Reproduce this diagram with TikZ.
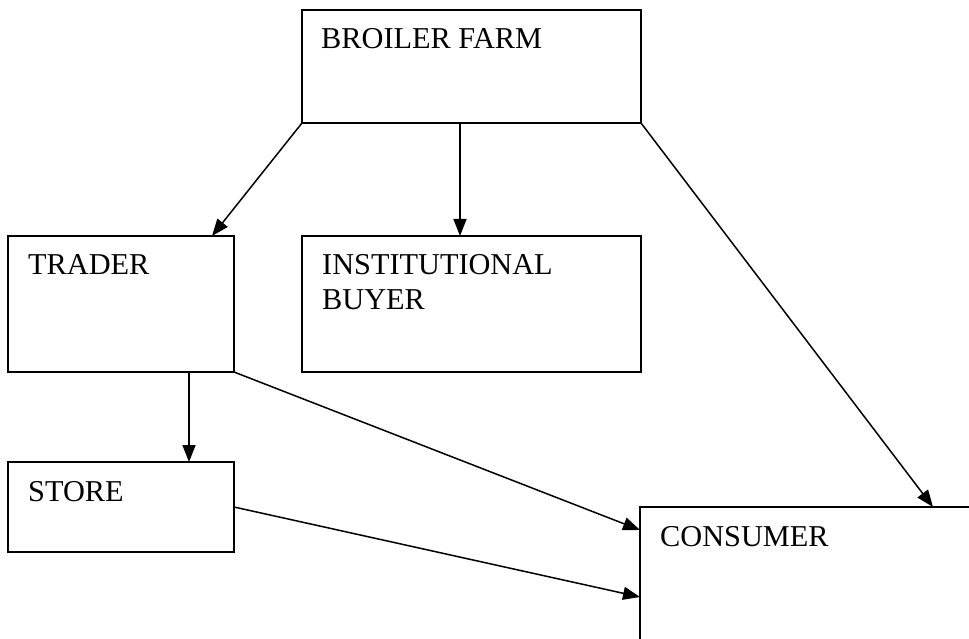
\documentclass[tikz,border=0pt]{standalone}
\usepackage{fontspec}
\setmainfont{Liberation Serif}
\usetikzlibrary{arrows.meta}
\begin{document}
\begin{tikzpicture}[x=1pt,y=-1pt,
  box/.style={draw,line width=1.5pt,rectangle,inner sep=0pt,outer sep=0pt},
  lbl/.style={anchor=base west,inner sep=0pt,font=\fontsize{30.3}{35}\selectfont},
  arr/.style={line width=1.5pt,-{Triangle[length=17pt,width=13pt]}}]
\useasboundingbox (0,0) rectangle (969,639);
\clip (0,0) rectangle (969,639);
\node[box,minimum width=339pt,minimum height=113pt] (broiler) at (471.5,66.5) {};
\node[box,minimum width=226pt,minimum height=136pt] (trader) at (121,304) {};
\node[box,minimum width=339pt,minimum height=136pt] (inst) at (471.5,304) {};
\node[box,minimum width=226pt,minimum height=90pt] (store) at (121,507) {};
\node[box,minimum width=360pt,minimum height=193pt] (consumer) at (820,603.5) {};
\node[lbl] (t1) at (321,49) {BROILER FARM};
\node[lbl] (t2) at (28,274) {TRADER};
\node[lbl] (t3) at (322,274) {INSTITUTIONAL};
\node[lbl] (t4) at (322,309) {BUYER};
\node[lbl] (t5) at (28,501) {STORE};
\node[lbl] (t6) at (660,546) {CONSUMER};
\draw[arr] (broiler.south west) -- ([xshift=204pt]trader.north west);
\draw[arr] ([xshift=-11.5pt]broiler.south) -- ([xshift=-11.5pt]inst.north);
\draw[arr] (broiler.south east) -- ([xshift=293pt]consumer.north west);
\draw[arr] ([xshift=68pt]trader.south) -- ([xshift=68pt]store.north);
\draw[arr] (trader.south east) -- ([yshift=-23pt]consumer.north west);
\draw[arr] (store.east) -- ([yshift=-90pt]consumer.north west);
\end{tikzpicture}
\end{document}
